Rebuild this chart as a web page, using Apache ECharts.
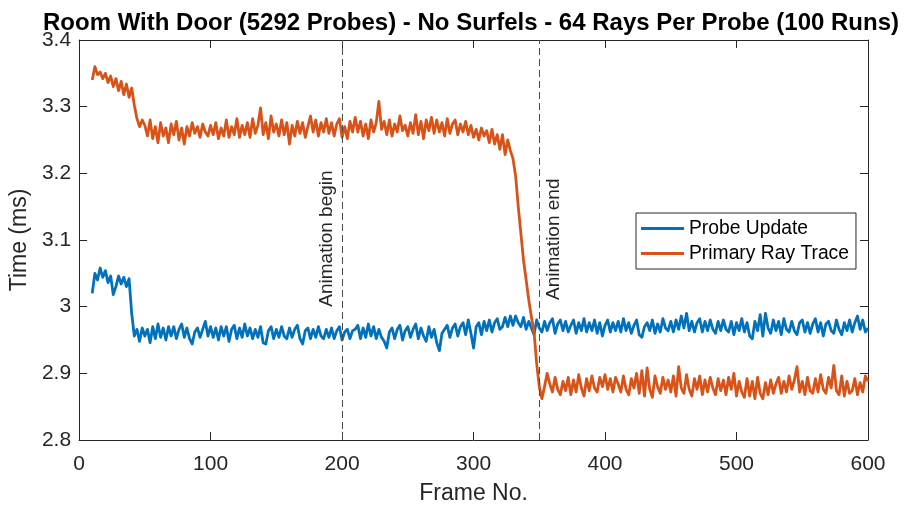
<!DOCTYPE html>
<html>
<head>
<meta charset="utf-8">
<script src="https://cdn.jsdelivr.net/npm/echarts@6/dist/echarts.min.js"></script>
<style>
html, body { margin: 0; padding: 0; background: #fff; }
#chart { width: 905px; height: 510px; }
</style>
</head>
<body>
<div id="chart"></div>
<script>
// Timing per frame, averaged over 100 runs (ms). One value every other frame.
const firstFrame = 10;
const frameStep = 2;

const probeUpdate = [
  3.020, 3.050, 3.040, 3.058, 3.044, 3.054, 3.036, 3.046, 3.018, 3.030,
  3.046, 3.034, 3.044, 3.030, 3.042, 2.990, 2.956, 2.966, 2.948, 2.968,
  2.956, 2.966, 2.946, 2.970, 2.952, 2.974, 2.954, 2.968, 2.950, 2.970,
  2.956, 2.970, 2.952, 2.966, 2.974, 2.954, 2.968, 2.952, 2.944, 2.962,
  2.968, 2.954, 2.966, 2.978, 2.956, 2.970, 2.954, 2.968, 2.950, 2.970,
  2.956, 2.970, 2.948, 2.966, 2.972, 2.952, 2.968, 2.954, 2.974, 2.956,
  2.968, 2.952, 2.966, 2.954, 2.970, 2.946, 2.944, 2.964, 2.970, 2.952,
  2.966, 2.954, 2.970, 2.956, 2.952, 2.968, 2.954, 2.966, 2.972, 2.952,
  2.944, 2.964, 2.968, 2.952, 2.966, 2.954, 2.970, 2.956, 2.952, 2.966,
  2.954, 2.968, 2.952, 2.964, 2.970, 2.950, 2.962, 2.966, 2.952, 2.964,
  2.966, 2.972, 2.952, 2.968, 2.954, 2.974, 2.956, 2.970, 2.952, 2.966,
  2.954, 2.948, 2.938, 2.962, 2.968, 2.952, 2.966, 2.972, 2.950, 2.964,
  2.970, 2.954, 2.966, 2.974, 2.952, 2.968, 2.956, 2.948, 2.970, 2.954,
  2.966, 2.946, 2.934, 2.960, 2.966, 2.972, 2.954, 2.968, 2.974, 2.956,
  2.970, 2.976, 2.958, 2.980, 2.960, 2.938, 2.970, 2.976, 2.958, 2.978,
  2.964, 2.980, 2.962, 2.976, 2.982, 2.966, 2.970, 2.984, 2.970, 2.986,
  2.972, 2.986, 2.976, 2.970, 2.984, 2.966, 2.978, 2.968, 2.958, 2.980,
  2.968, 2.962, 2.978, 2.964, 2.976, 2.982, 2.960, 2.974, 2.980, 2.964,
  2.978, 2.962, 2.972, 2.980, 2.960, 2.976, 2.964, 2.982, 2.962, 2.976,
  2.964, 2.980, 2.960, 2.976, 2.956, 2.972, 2.980, 2.962, 2.976, 2.964,
  2.978, 2.962, 2.982, 2.964, 2.976, 2.960, 2.972, 2.980, 2.958, 2.954,
  2.970, 2.976, 2.964, 2.980, 2.960, 2.974, 2.962, 2.982, 2.968, 2.964,
  2.978, 2.962, 2.980, 2.966, 2.986, 2.968, 2.990, 2.964, 2.978, 2.962,
  2.976, 2.982, 2.962, 2.978, 2.964, 2.980, 2.966, 2.960, 2.978, 2.964,
  2.980, 2.966, 2.962, 2.978, 2.958, 2.976, 2.964, 2.982, 2.962, 2.976,
  2.956, 2.952, 2.978, 2.964, 2.988, 2.956, 2.990, 2.968, 2.960, 2.980,
  2.964, 2.978, 2.958, 2.982, 2.966, 2.962, 2.978, 2.964, 2.958, 2.976,
  2.980, 2.962, 2.976, 2.960, 2.974, 2.982, 2.962, 2.976, 2.956, 2.974,
  2.978, 2.964, 2.960, 2.980, 2.966, 2.958, 2.976, 2.964, 2.980, 2.962,
  2.976, 2.986, 2.966, 2.980, 2.962, 2.968
];

const primaryRayTrace = [
  3.340, 3.360, 3.348, 3.352, 3.342, 3.350, 3.336, 3.346, 3.330, 3.342,
  3.324, 3.338, 3.318, 3.334, 3.314, 3.328, 3.302, 3.282, 3.270, 3.280,
  3.272, 3.256, 3.280, 3.252, 3.270, 3.246, 3.276, 3.256, 3.268, 3.246,
  3.274, 3.258, 3.278, 3.250, 3.268, 3.244, 3.270, 3.256, 3.276, 3.260,
  3.270, 3.254, 3.274, 3.262, 3.256, 3.272, 3.258, 3.276, 3.252, 3.268,
  3.256, 3.280, 3.254, 3.270, 3.258, 3.282, 3.254, 3.272, 3.258, 3.276,
  3.254, 3.282, 3.260, 3.272, 3.298, 3.258, 3.276, 3.252, 3.286, 3.262,
  3.274, 3.256, 3.280, 3.258, 3.276, 3.244, 3.272, 3.256, 3.278, 3.260,
  3.276, 3.254, 3.270, 3.286, 3.262, 3.280, 3.256, 3.276, 3.262, 3.282,
  3.260, 3.276, 3.256, 3.274, 3.282, 3.254, 3.270, 3.252, 3.278, 3.262,
  3.284, 3.262, 3.278, 3.256, 3.274, 3.252, 3.280, 3.262, 3.276, 3.308,
  3.266, 3.278, 3.258, 3.280, 3.256, 3.274, 3.262, 3.286, 3.264, 3.272,
  3.256, 3.276, 3.260, 3.288, 3.258, 3.278, 3.252, 3.280, 3.264, 3.284,
  3.260, 3.280, 3.262, 3.276, 3.256, 3.282, 3.260, 3.274, 3.280, 3.258,
  3.274, 3.262, 3.278, 3.258, 3.272, 3.254, 3.266, 3.250, 3.268, 3.256,
  3.264, 3.246, 3.266, 3.244, 3.258, 3.236, 3.258, 3.228, 3.250, 3.234,
  3.222, 3.196, 3.150, 3.110, 3.070, 3.040, 3.010, 2.985, 2.962, 2.915,
  2.880, 2.862, 2.880, 2.900, 2.884, 2.872, 2.894, 2.876, 2.868, 2.888,
  2.874, 2.894, 2.868, 2.890, 2.872, 2.898, 2.878, 2.866, 2.892, 2.874,
  2.896, 2.878, 2.872, 2.894, 2.880, 2.898, 2.876, 2.892, 2.872, 2.894,
  2.884, 2.872, 2.896, 2.876, 2.868, 2.892, 2.878, 2.900, 2.870, 2.904,
  2.866, 2.908, 2.876, 2.864, 2.896, 2.880, 2.870, 2.894, 2.876, 2.890,
  2.872, 2.896, 2.866, 2.910, 2.878, 2.870, 2.898, 2.876, 2.866, 2.892,
  2.876, 2.896, 2.868, 2.890, 2.872, 2.894, 2.878, 2.868, 2.892, 2.874,
  2.890, 2.868, 2.894, 2.876, 2.900, 2.866, 2.888, 2.872, 2.864, 2.892,
  2.866, 2.888, 2.862, 2.894, 2.870, 2.862, 2.886, 2.868, 2.890, 2.870,
  2.884, 2.894, 2.870, 2.888, 2.872, 2.896, 2.876, 2.890, 2.910, 2.872,
  2.888, 2.868, 2.894, 2.874, 2.870, 2.892, 2.872, 2.898, 2.876, 2.870,
  2.894, 2.878, 2.912, 2.874, 2.868, 2.896, 2.866, 2.888, 2.870, 2.874,
  2.892, 2.868, 2.886, 2.872, 2.896, 2.888
];

const seriesNames = ['Probe Update', 'Primary Ray Trace'];
const seriesColors = ['#0072BD', '#D95319'];

const xTickLabels = ['0', '100', '200', '300', '400', '500', '600'];
const yTickLabels = ['2.8', '2.9', '3', '3.1', '3.2', '3.3', '3.4'];

// Animation start / end markers
const eventFrames = [200, 350];
const eventLabels = ['Animation begin', 'Animation end'];
const eventLabelStart = [3.0, 3.01];

const titleText = 'Room With Door (5292 Probes) - No Surfels - 64 Rays Per Probe (100 Runs)';

const FONT = '"Liberation Sans", Arial, Helvetica, sans-serif';
const AXIS_COLOR = '#262626';
const X_MIN = 0, X_MAX = 600, X_STEP = 100;
const Y_MIN = 2.8, Y_MAX = 3.4, Y_STEP = 0.1;

const toPoints = vals => vals.map((v, i) => [firstFrame + i * frameStep, v]);
const tickLabel = (labels, min, step) => v => {
  const k = Math.round((v - min) / step);
  return labels[k] !== undefined ? labels[k] : '';
};

function makeXAxis(position, main) {
  return {
    type: 'value', position: position,
    min: X_MIN, max: X_MAX, interval: X_STEP,
    name: main ? 'Frame No.' : '',
    nameLocation: 'middle', nameGap: 42,
    nameTextStyle: { fontFamily: FONT, fontSize: 23, color: AXIS_COLOR },
    axisLine: { show: true, onZero: false, lineStyle: { color: AXIS_COLOR, width: 1 } },
    axisTick: { show: true, inside: true, length: 8, lineStyle: { color: AXIS_COLOR, width: 1 } },
    axisLabel: {
      show: main, margin: 14, fontFamily: FONT, fontSize: 21, color: AXIS_COLOR,
      formatter: tickLabel(xTickLabels, X_MIN, X_STEP)
    },
    splitLine: { show: false }
  };
}

function makeYAxis(position, main) {
  return {
    type: 'value', position: position,
    min: Y_MIN, max: Y_MAX, interval: Y_STEP,
    name: main ? 'Time (ms)' : '',
    nameLocation: 'middle', nameGap: 40, nameRotate: 90,
    nameTextStyle: { fontFamily: FONT, fontSize: 23, color: AXIS_COLOR },
    axisLine: { show: true, onZero: false, lineStyle: { color: AXIS_COLOR, width: 1 } },
    axisTick: { show: true, inside: true, length: 8, lineStyle: { color: AXIS_COLOR, width: 1 } },
    axisLabel: {
      show: main, margin: 8, fontFamily: FONT, fontSize: 21, color: AXIS_COLOR,
      formatter: tickLabel(yTickLabels, Y_MIN, Y_STEP)
    },
    splitLine: { show: false }
  };
}

const chart = echarts.init(document.getElementById('chart'), null, { renderer: 'canvas' });

const series = [probeUpdate, primaryRayTrace].map((vals, i) => ({
  name: seriesNames[i],
  type: 'line',
  xAxisIndex: 0, yAxisIndex: 0,
  data: toPoints(vals),
  symbol: 'none', showSymbol: false,
  lineStyle: { color: seriesColors[i], width: 2.8, join: 'round' },
  itemStyle: { color: seriesColors[i] },
  emphasis: { disabled: true },
  z: 3
}));

series[0].markLine = {
  silent: true,
  symbol: ['none', 'none'],
  label: { show: false },
  lineStyle: { type: [7, 4], color: '#4a4a4a', width: 1 },
  emphasis: { disabled: true },
  data: eventFrames.map(f => ({ xAxis: f }))
};

chart.setOption({
  animation: false,
  backgroundColor: '#ffffff',
  title: {
    text: titleText,
    left: 471, top: 11, textAlign: 'center', padding: 0,
    textStyle: { fontFamily: FONT, fontSize: 24, fontWeight: 'bold', color: '#000' }
  },
  grid: { left: 77, right: 37, top: 40, bottom: 67, containLabel: false },
  xAxis: [makeXAxis('bottom', true), makeXAxis('top', false)],
  yAxis: [makeYAxis('left', true), makeYAxis('right', false)],
  legend: {
    data: seriesNames.map((n, i) => ({ name: n, icon: 'rect', itemStyle: { color: seriesColors[i] } })),
    orient: 'vertical',
    left: 636, top: 213,
    itemWidth: 43, itemHeight: 3, itemGap: 6,
    padding: [6, 7, 6, 5],
    borderColor: AXIS_COLOR, borderWidth: 1,
    backgroundColor: '#fff',
    selectedMode: false,
    textStyle: { fontFamily: FONT, fontSize: 19.3, color: '#000' }
  },
  series: series
});

// Rotated labels beside the dashed markers
const labelOffsets = [-6, 5];
const labelAligns = ['bottom', 'top'];
chart.setOption({
  graphic: eventFrames.map((f, i) => {
    const p = chart.convertToPixel({ xAxisIndex: 0, yAxisIndex: 0 }, [f, eventLabelStart[i]]);
    return {
      type: 'text',
      x: p[0] + labelOffsets[i], y: p[1],
      rotation: Math.PI / 2,
      silent: true,
      style: {
        text: eventLabels[i],
        fontFamily: FONT, fontSize: 19,
        fill: AXIS_COLOR,
        align: 'left', verticalAlign: labelAligns[i]
      }
    };
  })
});
</script>
</body>
</html>
